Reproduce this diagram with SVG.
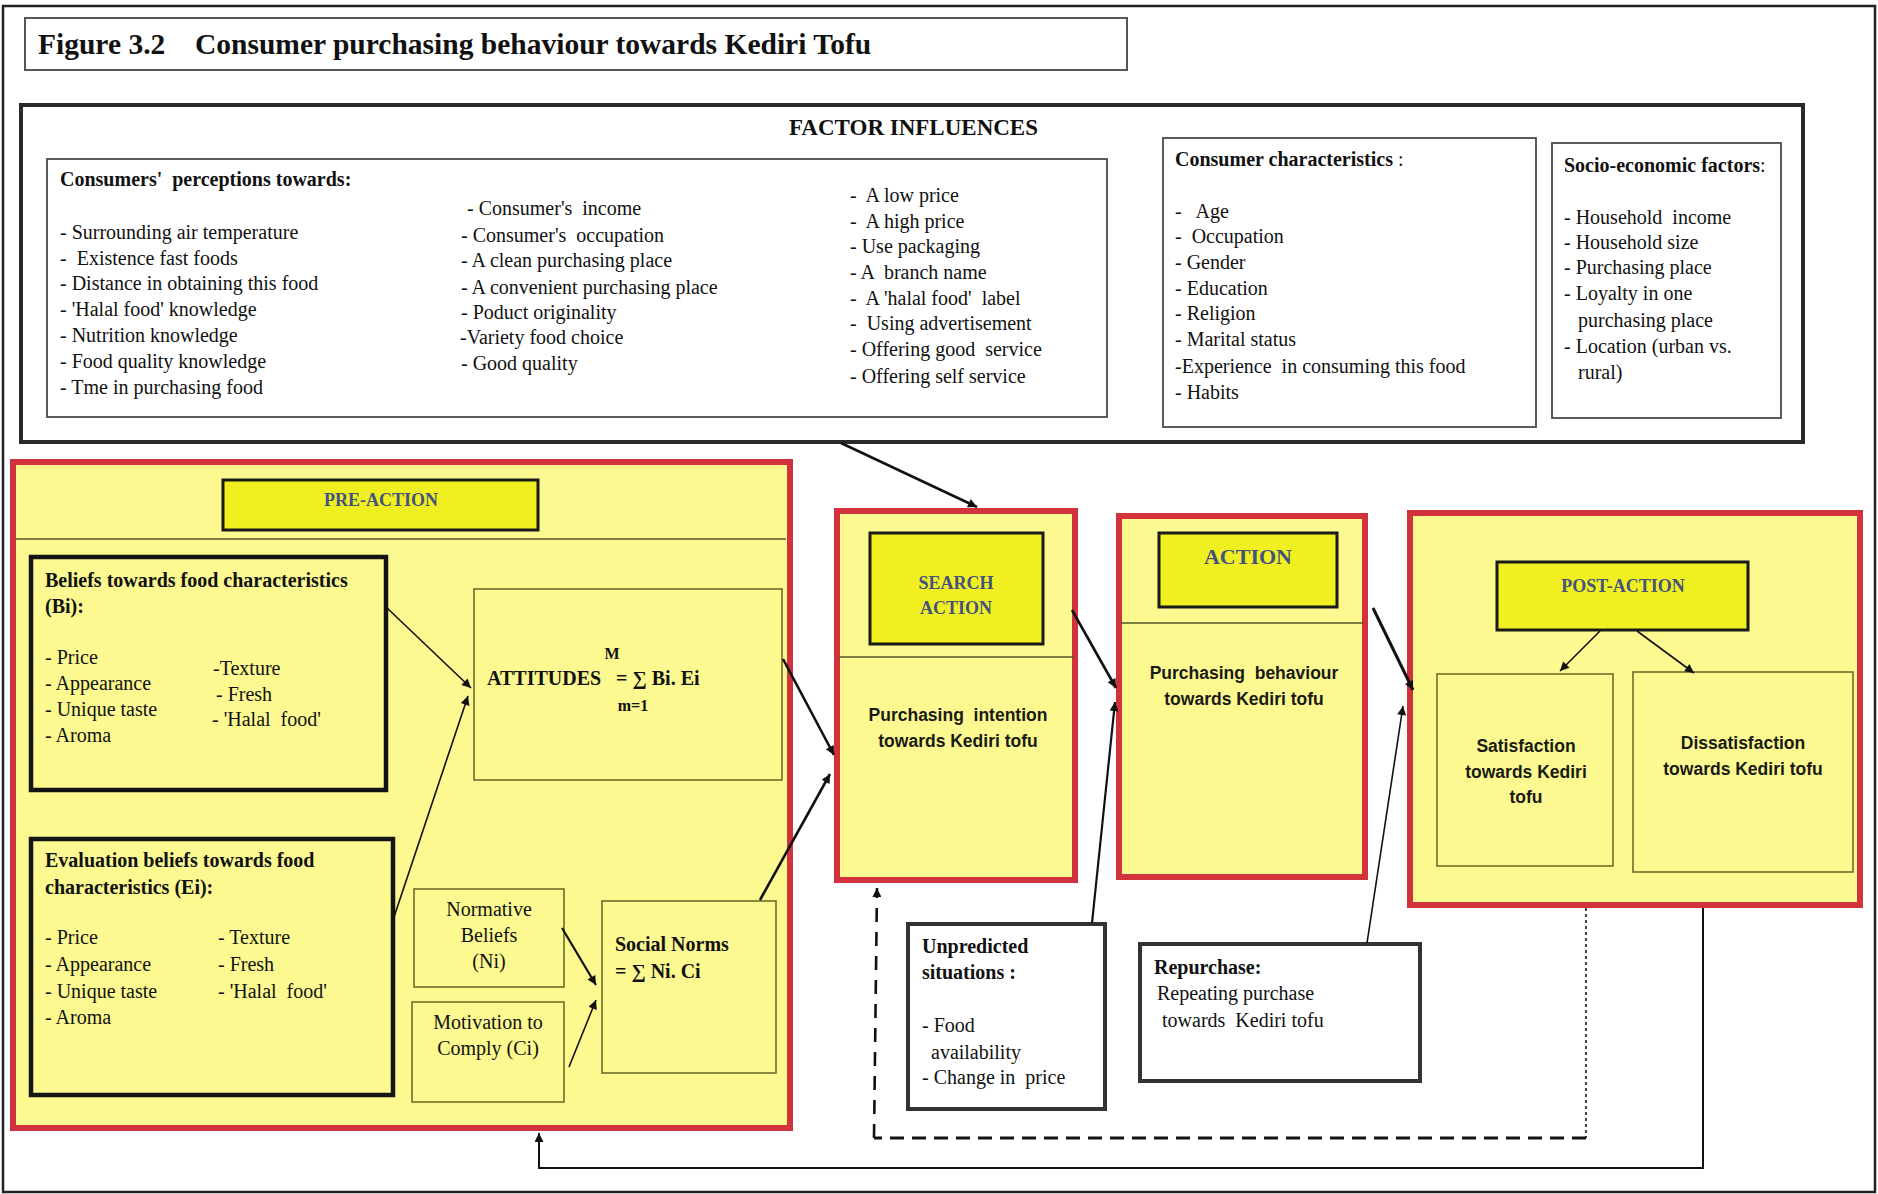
<svg xmlns="http://www.w3.org/2000/svg" width="1878" height="1194" viewBox="0 0 1878 1194" xml:space="preserve">
  <defs>
    <style>
      text { font-family: "Liberation Serif", "Times New Roman", serif; font-size: 20px; fill: #111; white-space: pre; }
      .b { font-weight: bold; }
      .c { text-anchor: middle; }
      .sans { font-family: "Liberation Sans", Arial, sans-serif; font-weight: bold; font-size: 17.5px; fill: #1a1a14; }
      .hd { fill: #44527f; font-weight: bold; font-size: 18px; }
      .thin { fill: none; stroke: #4a4a4a; stroke-width: 1.8; }
      .stage { fill: #FBF98F; stroke: #D2323C; stroke-width: 6; }
      .head { fill: #F0F020; stroke: #1a1a1a; stroke-width: 3; }
      .olive { fill: none; stroke: #6e6e2a; stroke-width: 1.6; }
      .heavy { fill: none; stroke: #141414; stroke-width: 4.5; }
      .note { fill: #fff; stroke: #333; stroke-width: 4; }
      .sep { stroke: #55552a; stroke-width: 1.6; }
      .arr { fill: none; stroke: #111; marker-end: url(#ah); }
    </style>
    <marker id="ah" viewBox="0 0 10 10" refX="10" refY="5" markerWidth="12" markerHeight="9" markerUnits="userSpaceOnUse" orient="auto">
      <path d="M0,0 L10,5 L0,10 z" fill="#111"/>
    </marker>
    <marker id="ahs" viewBox="0 0 10 10" refX="10" refY="5" markerWidth="10" markerHeight="8" markerUnits="userSpaceOnUse" orient="auto">
      <path d="M0,0 L10,5 L0,10 z" fill="#2a2a10"/>
    </marker>
  </defs>

  <rect width="1878" height="1194" fill="#fff"/>
  <!-- page frame -->
  <rect x="3" y="6" width="1872" height="1186" fill="none" stroke="#222" stroke-width="2.5"/>

  <!-- caption -->
  <g id="title">
    <rect x="25" y="18" width="1102" height="52" fill="none" stroke="#555" stroke-width="2"/>
    <text x="38" y="54" class="b" style="font-size:29.5px">Figure 3.2</text>
    <text x="195" y="54" class="b" style="font-size:29.5px">Consumer purchasing behaviour towards Kediri Tofu</text>
  </g>

  <!-- influencing factors panel -->
  <g id="factor-influences">
    <rect x="21" y="105" width="1782" height="337" fill="none" stroke="#2a2a2a" stroke-width="4"/>
    <text x="789" y="135" class="b" style="font-size:23px">FACTOR INFLUENCES</text>
  </g>

  <g id="perceptions">
    <rect x="47" y="159" width="1060" height="258" class="thin"/>
    <text x="60" y="186" class="b">Consumers'  perceptions towards:</text>
    <text x="60" y="239">- Surrounding air temperature</text>
    <text x="60" y="265">-  Existence fast foods</text>
    <text x="60" y="290">- Distance in obtaining this food</text>
    <text x="60" y="316">- 'Halal food' knowledge</text>
    <text x="60" y="342">- Nutrition knowledge</text>
    <text x="60" y="368">- Food quality knowledge</text>
    <text x="60" y="394">- Tme in purchasing food</text>

    <text x="467" y="215">- Consumer's  income</text>
    <text x="461" y="242">- Consumer's  occupation</text>
    <text x="461" y="267">- A clean purchasing place</text>
    <text x="461" y="294">- A convenient purchasing place</text>
    <text x="461" y="319">- Poduct originality</text>
    <text x="460" y="344">-Variety food choice</text>
    <text x="461" y="370">- Good quality</text>

    <text x="850" y="202">-  A low price</text>
    <text x="850" y="228">-  A high price</text>
    <text x="850" y="253">- Use packaging</text>
    <text x="850" y="279">- A  branch name</text>
    <text x="850" y="305">-  A 'halal food'  label</text>
    <text x="850" y="330">-  Using advertisement</text>
    <text x="850" y="356">- Offering good  service</text>
    <text x="850" y="383">- Offering self service</text>
  </g>

  <g id="consumer-characteristics">
    <rect x="1163" y="138" width="373" height="289" class="thin"/>
    <text x="1175" y="166"><tspan class="b">Consumer characteristics</tspan> :</text>
    <text x="1175" y="218">-   Age</text>
    <text x="1175" y="243">-  Occupation</text>
    <text x="1175" y="269">- Gender</text>
    <text x="1175" y="295">- Education</text>
    <text x="1175" y="320">- Religion</text>
    <text x="1175" y="346">- Marital status</text>
    <text x="1175" y="373">-Experience  in consuming this food</text>
    <text x="1175" y="399">- Habits</text>
  </g>

  <g id="socio-economic">
    <rect x="1552" y="143" width="229" height="275" class="thin"/>
    <text x="1564" y="172"><tspan class="b">Socio-economic factors</tspan>:</text>
    <text x="1564" y="224">- Household  income</text>
    <text x="1564" y="249">- Household size</text>
    <text x="1564" y="274">- Purchasing place</text>
    <text x="1564" y="300">- Loyalty in one</text>
    <text x="1578" y="327">purchasing place</text>
    <text x="1564" y="353">- Location (urban vs.</text>
    <text x="1578" y="379">rural)</text>
  </g>

  <!-- PRE-ACTION stage -->
  <g id="pre-action">
    <rect x="13" y="462" width="777" height="666" class="stage"/>
    <rect x="223" y="480" width="315" height="50" class="head"/>
    <text x="381" y="506" class="hd c">PRE-ACTION</text>
    <line x1="16" y1="539" x2="786" y2="539" class="sep"/>
  </g>

  <g id="beliefs">
    <rect x="31" y="557" width="355" height="233" class="heavy"/>
    <text x="45" y="587" class="b">Beliefs towards food characteristics</text>
    <text x="45" y="613" class="b">(Bi):</text>
    <text x="45" y="664">- Price</text>
    <text x="45" y="690">- Appearance</text>
    <text x="45" y="716">- Unique taste</text>
    <text x="45" y="742">- Aroma</text>
    <text x="213" y="675">-Texture</text>
    <text x="216" y="701">- Fresh</text>
    <text x="212" y="726">- 'Halal  food'</text>
  </g>

  <g id="attitudes">
    <rect x="474" y="589" width="308" height="191" class="olive"/>
    <text x="612" y="659" class="b c" style="font-size:16px">M</text>
    <text x="487" y="685" class="b">ATTITUDES   = ∑ Bi. Ei</text>
    <text x="633" y="711" class="b c" style="font-size:16px">m=1</text>
  </g>

  <g id="evaluation-beliefs">
    <rect x="31" y="839" width="362" height="256" class="heavy"/>
    <text x="45" y="867" class="b">Evaluation beliefs towards food</text>
    <text x="45" y="894" class="b">characteristics (Ei):</text>
    <text x="45" y="944">- Price</text>
    <text x="45" y="971">- Appearance</text>
    <text x="45" y="998">- Unique taste</text>
    <text x="45" y="1024">- Aroma</text>
    <text x="218" y="944">- Texture</text>
    <text x="218" y="971">- Fresh</text>
    <text x="218" y="998">- 'Halal  food'</text>
  </g>

  <g id="normative-beliefs">
    <rect x="414" y="889" width="150" height="98" class="olive"/>
    <text x="489" y="916" class="c">Normative</text>
    <text x="489" y="942" class="c">Beliefs</text>
    <text x="489" y="968" class="c">(Ni)</text>
  </g>

  <g id="motivation">
    <rect x="412" y="1002" width="152" height="100" class="olive"/>
    <text x="488" y="1029" class="c">Motivation to</text>
    <text x="488" y="1055" class="c">Comply (Ci)</text>
  </g>

  <g id="social-norms">
    <rect x="602" y="901" width="174" height="172" class="olive"/>
    <text x="615" y="951" class="b">Social Norms</text>
    <text x="615" y="978" class="b">= ∑ Ni. Ci</text>
  </g>

  <!-- SEARCH ACTION stage -->
  <g id="search-action">
    <rect x="837" y="511" width="238" height="369" class="stage"/>
    <rect x="870" y="533" width="173" height="111" class="head"/>
    <text x="956" y="589" class="hd c">SEARCH</text>
    <text x="956" y="614" class="hd c">ACTION</text>
    <line x1="839" y1="657" x2="1074" y2="657" class="sep"/>
    <text x="958" y="721" class="sans c">Purchasing  intention</text>
    <text x="958" y="747" class="sans c">towards Kediri tofu</text>
  </g>

  <!-- ACTION stage -->
  <g id="action">
    <rect x="1119" y="516" width="246" height="361" class="stage"/>
    <rect x="1159" y="533" width="178" height="74" class="head"/>
    <text x="1248" y="564" class="hd c" style="font-size:22px">ACTION</text>
    <line x1="1121" y1="623" x2="1363" y2="623" class="sep"/>
    <text x="1244" y="679" class="sans c">Purchasing  behaviour</text>
    <text x="1244" y="705" class="sans c">towards Kediri tofu</text>
  </g>

  <!-- POST-ACTION stage -->
  <g id="post-action">
    <rect x="1410" y="513" width="450" height="392" class="stage"/>
    <rect x="1497" y="562" width="251" height="68" class="head"/>
    <text x="1623" y="592" class="hd c">POST-ACTION</text>
  </g>

  <g id="satisfaction">
    <rect x="1437" y="674" width="176" height="192" class="olive"/>
    <text x="1526" y="752" class="sans c">Satisfaction</text>
    <text x="1526" y="778" class="sans c">towards Kediri</text>
    <text x="1526" y="803" class="sans c">tofu</text>
  </g>

  <g id="dissatisfaction">
    <rect x="1633" y="672" width="220" height="200" class="olive"/>
    <text x="1743" y="749" class="sans c">Dissatisfaction</text>
    <text x="1743" y="775" class="sans c">towards Kediri tofu</text>
  </g>

  <g id="unpredicted-situations">
    <rect x="908" y="924" width="197" height="185" class="note"/>
    <text x="922" y="953" class="b">Unpredicted</text>
    <text x="922" y="979" class="b">situations :</text>
    <text x="922" y="1032">- Food</text>
    <text x="931" y="1059">availability</text>
    <text x="922" y="1084">- Change in  price</text>
  </g>

  <g id="repurchase">
    <rect x="1140" y="944" width="280" height="137" class="note"/>
    <text x="1154" y="974" class="b">Repurchase:</text>
    <text x="1157" y="1000">Repeating purchase</text>
    <text x="1162" y="1027">towards  Kediri tofu</text>
  </g>

  <!-- connectors -->
  <g id="connectors">
    <line x1="841" y1="443" x2="977" y2="507" class="arr" stroke-width="2.6"/>
    <line x1="386" y1="607" x2="471" y2="688" class="arr" stroke="#3a3a1a" stroke-width="1.6"/>
    <line x1="393" y1="920" x2="468" y2="696" class="arr" stroke="#3a3a1a" stroke-width="1.6"/>
    <line x1="562" y1="928" x2="596" y2="985" class="arr" stroke-width="2.2"/>
    <line x1="569" y1="1067" x2="596" y2="1000" class="arr" stroke-width="1.6"/>
    <line x1="783" y1="659" x2="834" y2="755" class="arr" stroke-width="2.6"/>
    <line x1="760" y1="900" x2="830" y2="774" class="arr" stroke-width="2.6"/>
    <line x1="1072" y1="610" x2="1116" y2="688" class="arr" stroke-width="2.6"/>
    <line x1="1092" y1="923" x2="1115" y2="702" class="arr" stroke-width="2.2"/>
    <line x1="1373" y1="608" x2="1413" y2="690" class="arr" stroke-width="3"/>
    <line x1="1367" y1="943" x2="1403" y2="706" class="arr" stroke-width="1.6"/>
    <line x1="1600" y1="631" x2="1560" y2="671" class="arr" stroke="#4a4a1a" stroke-width="1.6" marker-end="url(#ahs)"/>
    <line x1="1637" y1="631" x2="1694" y2="673" class="arr" stroke="#4a4a1a" stroke-width="1.6" marker-end="url(#ahs)"/>
    <!-- dashed repeat loop back to search action -->
    <line x1="1586" y1="908" x2="1586" y2="1138" fill="none" stroke="#444" stroke-width="2" stroke-dasharray="3 3"/>
    <line x1="1586" y1="1138" x2="874" y2="1138" fill="none" stroke="#111" stroke-width="3" stroke-dasharray="14 8"/>
    <line x1="874" y1="1138" x2="877" y2="888" class="arr" stroke-width="2.6" stroke-dasharray="14 10"/>
    <!-- solid loop back to pre-action -->
    <polyline points="1703,908 1703,1168 539,1168 539,1133" class="arr" stroke="#333" stroke-width="2"/>
  </g>
</svg>
